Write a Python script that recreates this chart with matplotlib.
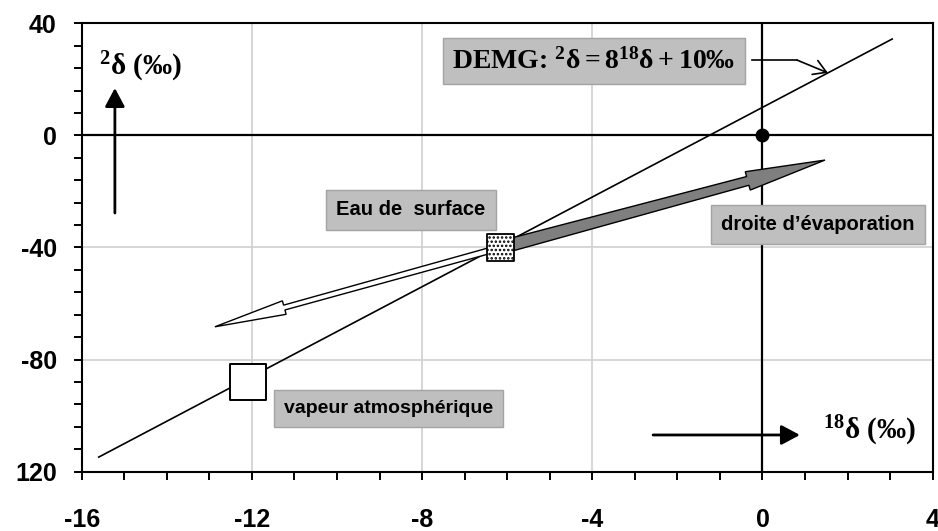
import numpy as np
import matplotlib
matplotlib.use("Agg")
import matplotlib.pyplot as plt
from matplotlib.patches import Polygon
from matplotlib.transforms import IdentityTransform
from matplotlib.ticker import MultipleLocator

####### data
# meteoric water line DEMG: 2d = 8*18d + 10
gmwl_x = [-15.6, 3.05]
gmwl_y = [-114.8, 34.4]
# points
surface_pt = (-6.15, -40.0)     # eau de surface
vapour_pt = (-12.1, -88.0)      # vapeur atmospherique
smow_pt = (0.0, 0.0)
# arrow tips
evap_tip = (1.47, -8.8)
vapour_tip = (-12.87, -68.3)
# ticks
xticks = [-16, -12, -8, -4, 0, 4]
yticks = [-120, -80, -40, 0, 40]
ytick_labels = ["120", "-80", "-40", "0", "40"]
########

plt.rcParams["font.family"] = ["Liberation Sans", "DejaVu Sans"]
plt.rcParams["axes.unicode_minus"] = False
plt.rcParams["mathtext.fontset"] = "custom"
plt.rcParams["mathtext.rm"] = "Liberation Serif:bold"
plt.rcParams["mathtext.it"] = "Liberation Serif:bold"
plt.rcParams["mathtext.bf"] = "Liberation Serif:bold"
plt.rcParams["hatch.linewidth"] = 1.2

fig = plt.figure(figsize=(9.38, 5.31), dpi=100)
ax = fig.add_axes([0.0871, 0.1117, 0.9072, 0.8444])
ax.set_xlim(-16, 4)
ax.set_ylim(-120, 40)

# ticks
ax.set_xticks(xticks)
ax.set_yticks(yticks)
ax.set_yticklabels(ytick_labels)
ax.xaxis.set_minor_locator(MultipleLocator(1))
ax.yaxis.set_minor_locator(MultipleLocator(8))
ax.tick_params(which="major", direction="out", length=6, width=1.4,
               labelsize=18, colors="black")
ax.tick_params(which="minor", direction="out", length=5.5, width=1.4)
ax.tick_params(axis="x", which="major", pad=20)
ax.tick_params(axis="y", which="major", pad=12)
for lab in ax.get_xticklabels() + ax.get_yticklabels():
    lab.set_fontweight("bold")
for sp in ax.spines.values():
    sp.set_linewidth(1.5)

# grid + axes lines through 0
ax.set_axisbelow(True)
ax.grid(True, which="major", color="#cfcfcf", lw=1.2)
ax.axhline(0, color="black", lw=1.6, zorder=1)
ax.axvline(0, color="black", lw=1.6, zorder=1)

# DEMG line
ax.plot(gmwl_x, gmwl_y, color="black", lw=1.2, zorder=2)


def taper_arrow(start, end, w0, w1, head_w, head_len, fc, z):
    # arrow built in pixels so it is not distorted by the axes aspect
    p0 = ax.transData.transform(start)
    p1 = ax.transData.transform(end)
    d = p1 - p0
    u = d / np.hypot(*d)
    n = np.array([-u[1], u[0]])
    b = p1 - u * head_len
    pts = [p0 + n * w0 / 2, b + n * w1 / 2, b + n * head_w / 2, p1,
           b - n * head_w / 2, b - n * w1 / 2, p0 - n * w0 / 2]
    ax.add_patch(Polygon(pts, closed=True, transform=IdentityTransform(),
                         fc=fc, ec="black", lw=1.0, zorder=z))


taper_arrow(surface_pt, evap_tip, 13, 9, 19, 80, "#7f7f7f", 3)
taper_arrow(surface_pt, vapour_tip, 6, 5, 14, 72, "white", 3)

# points
ax.scatter([surface_pt[0]], [surface_pt[1]], s=370, marker="s",
           facecolor="white", edgecolor="black", hatch="....", lw=1.3, zorder=5)
ax.scatter([vapour_pt[0]], [vapour_pt[1]], s=700, marker="s",
           facecolor="white", edgecolor="black", lw=1.4, zorder=5)
ax.plot([smow_pt[0]], [smow_pt[1]], "o", color="black", ms=9, zorder=5)

# boxed labels
box = dict(boxstyle="square,pad=0.5", fc="#bfbfbf", ec="#a3a3a3", lw=1)
ax.text(-3.96, 26.5, r"DEMG: $^{2}\delta = 8^{18}\delta + 10$‰",
        family=["Liberation Serif", "DejaVu Serif"], weight="bold",
        fontsize=20, ha="center", va="center",
        bbox=dict(boxstyle="square,pad=0.35", fc="#bfbfbf", ec="#a3a3a3", lw=1),
        zorder=6)
ax.text(-8.26, -26.6, "Eau de  surface", fontsize=14.5, weight="bold",
        ha="center", va="center", bbox=box, zorder=6)
ax.text(1.30, -31.9, "droite d’évaporation", fontsize=14.5, weight="bold",
        ha="center", va="center", bbox=box, zorder=6)
ax.text(-8.79, -97.5, "vapeur atmosphérique", fontsize=14, weight="bold",
        ha="center", va="center", bbox=box, zorder=6)

# DEMG pointer
ax.plot([-0.25, 0.81], [26.9, 26.9], color="black", lw=1.2, zorder=6)
ax.annotate("", xy=(1.54, 22.3), xytext=(0.81, 26.9),
            arrowprops=dict(arrowstyle="->,head_length=0.5,head_width=0.3",
                            color="black", lw=1.2, mutation_scale=18,
                            shrinkA=0, shrinkB=0), zorder=6)

# axis direction labels
ax.text(-14.63, 24.6, r"$^{2}\delta$ (‰)",
        family=["Liberation Serif", "DejaVu Serif"], weight="bold",
        fontsize=21, ha="center", va="center")
ax.text(2.51, -105.4, r"$^{18}\delta$ (‰)",
        family=["Liberation Serif", "DejaVu Serif"], weight="bold",
        fontsize=21, ha="center", va="center")
arr = dict(arrowstyle="-|>,head_length=0.75,head_width=0.4", color="black",
           lw=2, mutation_scale=15, shrinkA=0, shrinkB=0)
ax.annotate("", xy=(-15.22, 16.9), xytext=(-15.22, -27.7), arrowprops=arr)
ax.annotate("", xy=(0.88, -106.9), xytext=(-2.57, -106.9), arrowprops=arr)

fig.savefig("out.png", dpi=100)
